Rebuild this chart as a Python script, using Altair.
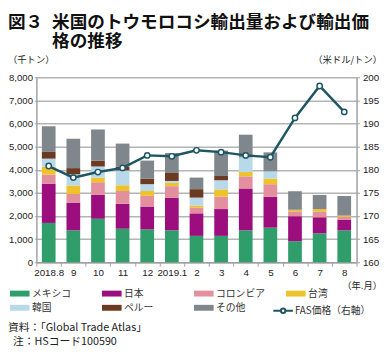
import altair as alt
import pandas as pd

months = ["2018.8", "9", "10", "11", "12", "2019.1", "2", "3", "4", "5", "6", "7", "8"]
countries = ["メキシコ", "日本", "コロンビア", "台湾", "韓国", "ペルー", "その他"]
colors = ["#2f9e6b", "#9c0e7e", "#e3909e", "#eec22a", "#b8d9ea", "#6b3a21", "#7f868c"]
# legend reads row by row: Vega fills columns first, so list it column by column
legend_order = ["メキシコ", "韓国", "日本", "ペルー", "コロンビア", "その他", "台湾"]

mexico   = [1700, 1380, 1880, 1450, 1420, 1380, 1140, 1140, 1380, 1495, 910, 1250, 1380]
japan    = [1700, 1200, 1030, 1080,  990, 1415,  975, 1160, 1810, 1340, 1080, 695, 465]
colombia = [ 390,  370,  550,  550,  460,  495,  255,  535,  525,  540, 210, 255, 115]
taiwan   = [ 350,  370,  200,  250,  210,  140,   85,  315,  185,  245,  70, 100,  55]
korea    = [ 340,  480,  480,  640,  295,   85,  340,  395,  635,  310,   0,   0,   0]
peru     = [ 290,  270,  255,  170,  245,  345,  365,  185,    0,    0,   0,   0,   0]
other    = [1110, 1270, 1345,  990,  775,  860,  500, 1100,  980,  820, 800, 610, 850]
fas      = [180.8, 178.3, 179.5, 180.4, 183.1, 182.9, 184.2, 183.8, 183.1, 182.7, 191.2, 198.1, 192.5]

series = [mexico, japan, colombia, taiwan, korea, peru, other]
color_of = dict(zip(countries, colors))

rows = []
for i, m in enumerate(months):
    for j, (c, vals) in enumerate(zip(countries, series)):
        rows.append({"month": m, "country": c, "value": vals[i], "ord": j})
bars_df = pd.DataFrame(rows)
line_df = pd.DataFrame({"month": months, "fas": fas, "series": ["FAS価格（右軸）"] * len(months)})

JP = "Noto Sans CJK JP"
LAT = "Liberation Sans"
TEAL = "#1f5663"
GRID = "#b4b4b4"
AX = "#a0a0a0"

x_enc = alt.X(
    "month:N", sort=months,
    scale=alt.Scale(paddingInner=0, paddingOuter=0),
    axis=alt.Axis(title=None, labelAngle=0, tickBand="extent", labelFont=LAT, labelFontSize=10,
                  labelColor="#222", domainColor=AX, domainWidth=1.5, tickColor=AX,
                  tickSize=4, tickWidth=1, labelPadding=2, grid=False),
)

rect_path = "M-1.43,-0.43H1.43V0.43H-1.43Z"
line_path = "M-1.43,0H-0.32M0.32,0H1.43M-0.32,0A0.32,0.32 0 1 1 0.32,0A0.32,0.32 0 1 1 -0.32,0"

bars = alt.Chart(bars_df).mark_bar(size=14).encode(
    x=x_enc,
    y=alt.Y("sum(value):Q", scale=alt.Scale(domain=[0, 8000]),
            axis=alt.Axis(title=None, values=list(range(0, 8001, 1000)), format=",d",
                          labelFont=LAT, labelFontSize=9.8, labelColor="#222", grid=True,
                          gridColor=GRID, gridWidth=1.5, domainColor=AX, domainWidth=1.5,
                          tickSize=2, tickColor=AX, labelPadding=2)),
    color=alt.Color("country:N", sort=legend_order,
                    scale=alt.Scale(domain=legend_order, range=[color_of[c] for c in legend_order]),
                    legend=alt.Legend(orient="none", legendX=-24, legendY=214, columns=4, title=None,
                                      symbolType=rect_path, symbolSize=196, symbolStrokeWidth=0,
                                      labelFont=JP, labelFontSize=10, labelColor="#333",
                                      labelOffset=5.5, gridAlign="all", columnPadding=20,
                                      rowPadding=2.5, padding=0)),
    order=alt.Order("ord:Q", sort="ascending"),
)

line = alt.Chart(line_df).mark_line(
    strokeWidth=2.5,
    point=alt.OverlayMarkDef(filled=True, fill="white", size=30, strokeWidth=1.5),
).encode(
    x=x_enc,
    y=alt.Y("fas:Q", scale=alt.Scale(domain=[160, 200]),
            axis=alt.Axis(title=None, orient="right", values=list(range(160, 201, 5)),
                          labelFont=LAT, labelFontSize=10, labelColor="#222", grid=False,
                          domainColor=AX, domainWidth=1.5, tickSize=3,
                          tickColor=AX, labelPadding=3)),
    stroke=alt.Stroke("series:N", scale=alt.Scale(range=[TEAL]),
                      legend=alt.Legend(orient="none", legendX=244, legendY=230.5, title=None,
                                        symbolType=line_path, symbolSize=196, symbolStrokeWidth=2,
                                        symbolFillColor="white", labelFont=JP, labelFontSize=10,
                                        labelColor="#333", labelOffset=4, padding=0)),
)


def txt(s, x, y, size, align="left", weight="normal", font=JP, color="#222"):
    return alt.Chart(pd.DataFrame({"t": [s]})).mark_text(
        align=align, baseline="middle", fontSize=size, fontWeight=weight, font=font, color=color
    ).encode(text="t:N", x=alt.value(x), y=alt.value(y))


texts = [
    txt("図３", -29, -55.5, 18, weight="bold", color="#111"),
    txt("米国のトウモロコシ輸出量および輸出価", 16, -55.5, 18, weight="bold", color="#111"),
    txt("格の推移", 16, -36, 18, weight="bold", color="#111"),
    txt("（千トン）", -29, -18, 9.5),
    txt("（米ドル/トン）", 353, -18, 9.5, align="right"),
    txt("（年.月）", 353, 213, 9.5, align="right"),
    txt("資料：「Global Trade Atlas」", -29, 256, 11),
    txt("注：HSコード100590", -24, 270.5, 11),
]

chart = alt.layer(bars, line, *texts).resolve_scale(y="independent", color="independent").properties(
    width=327, height=189,
    autosize=alt.AutoSizeParams(type="none"),
    padding={"left": 29, "top": 67, "right": 27, "bottom": 89},
).configure_view(stroke=None)

chart.save("out.html", embed_options={"renderer": "svg", "actions": False})
